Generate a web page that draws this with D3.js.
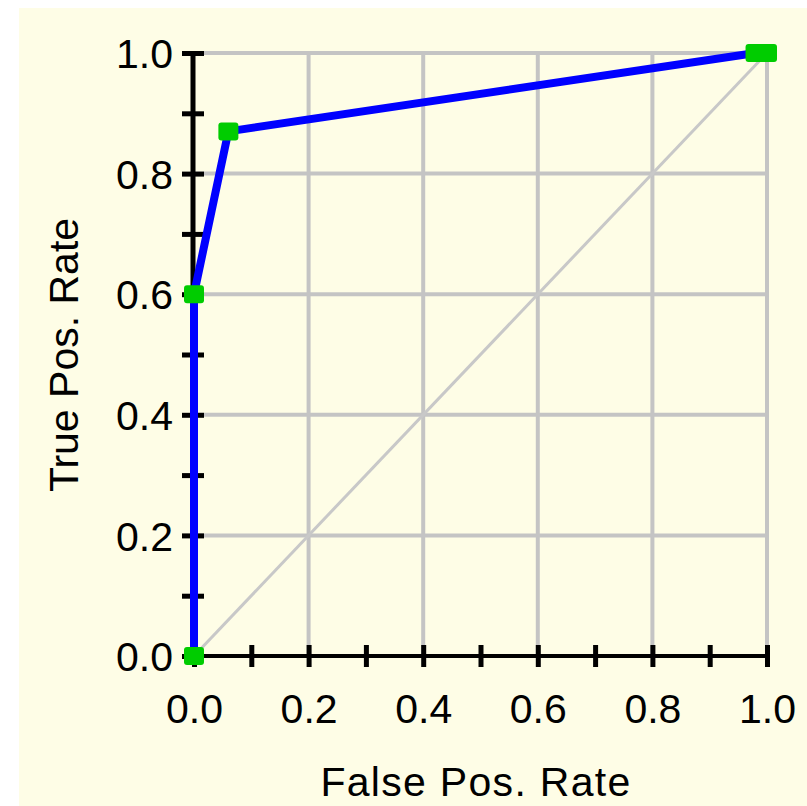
<!DOCTYPE html>
<html>
<head>
<meta charset="utf-8">
<script src="https://cdn.jsdelivr.net/npm/d3@7"></script>
<style>
  html, body { margin: 0; padding: 0; background: #ffffff; }
  svg { display: block; }
  text { font-family: Arial, "Liberation Sans", sans-serif; fill: #000; }
</style>
</head>
<body>
<svg id="chart" width="807" height="806"></svg>
<script>
// ---- data ----
const fpr = [0, 0, 0.06, 0.98, 1];
const tpr = [0, 0.6, 0.87, 1, 1];
const majorTicks = [0, 0.2, 0.4, 0.6, 0.8, 1.0];
const minorTicks = [0.1, 0.3, 0.5, 0.7, 0.9];
const xTitle = "False Pos. Rate";
const yTitle = "True Pos. Rate";

const svg = d3.select("#chart");
const W = 807, H = 806;

svg.append("rect").attr("x", 19).attr("y", 8).attr("width", W - 19).attr("height", H - 8)
  .attr("fill", "#fefde6");

const x = d3.scaleLinear().domain([0, 1]).range([194, 767]);
const y = d3.scaleLinear().domain([0, 1]).range([656, 53]);

const grid = svg.append("g");
grid.selectAll("line.v").data(majorTicks.filter(d => d > 0)).join("line")
  .attr("x1", d => x(d)).attr("x2", d => x(d))
  .attr("y1", y(0)).attr("y2", y(1))
  .attr("stroke", "#c4c4c4").attr("stroke-width", 4);
grid.selectAll("line.h").data(majorTicks.filter(d => d > 0)).join("line")
  .attr("x1", x(0)).attr("x2", x(1))
  .attr("y1", d => y(d)).attr("y2", d => y(d))
  .attr("stroke", "#c4c4c4").attr("stroke-width", 4);

// diagonal reference
svg.append("line")
  .attr("x1", x(0)).attr("y1", y(0)).attr("x2", x(1)).attr("y2", y(1))
  .attr("stroke", "#c8c8c8").attr("stroke-width", 3);

// axes
const allTicks = majorTicks.concat(minorTicks).sort((a, b) => a - b);
const fmt = d3.format(".1f");
const isMajor = d => majorTicks.some(m => Math.abs(m - d) < 1e-9);

const xAxis = d3.axisBottom(x).tickValues(allTicks).tickSizeInner(11).tickSizeOuter(0)
  .tickFormat(d => isMajor(d) ? fmt(d) : "");
const gx = svg.append("g").attr("transform", `translate(0,${y(0)})`).call(xAxis);
gx.select(".domain").attr("stroke", "#000").attr("stroke-width", 4)
  .attr("d", `M${x(0)},0H${x(1)}`);
gx.selectAll(".tick line").attr("stroke", "#000").attr("stroke-width", 5).attr("y1", -11).attr("y2", 11);
gx.selectAll(".tick text").attr("y", 67).attr("dy", 0).attr("font-size", 41)
  .attr("font-family", "Arial, 'Liberation Sans', sans-serif");

const yAxis = d3.axisLeft(y).tickValues(allTicks).tickSizeInner(11).tickSizeOuter(0)
  .tickFormat(d => isMajor(d) ? fmt(d) : "");
const gy = svg.append("g").attr("transform", `translate(${x(0) - 1},0)`).call(yAxis);
gy.select(".domain").attr("stroke", "#000").attr("stroke-width", 5)
  .attr("d", `M0,${y(0)}V${y(1)}`);
gy.selectAll(".tick line").attr("stroke", "#000").attr("stroke-width", 5).attr("x1", 11).attr("x2", -11);
gy.selectAll(".tick text").attr("x", -20).attr("dy", "0.36em").attr("font-size", 41)
  .attr("font-family", "Arial, 'Liberation Sans', sans-serif");

// ROC curve
const pts = fpr.map((f, i) => [f, tpr[i]]);
svg.append("path").datum(pts)
  .attr("d", d3.line().x(d => x(d[0])).y(d => y(d[1])))
  .attr("fill", "none").attr("stroke", "#0000ff").attr("stroke-width", 8)
  .attr("stroke-linejoin", "round");

svg.append("g").selectAll("rect").data(pts).join("rect")
  .attr("x", d => x(d[0]) - 10).attr("y", d => y(d[1]) - 9)
  .attr("width", 20).attr("height", 18).attr("rx", 3)
  .attr("fill", "#00cc00");

// titles
svg.append("text").attr("x", 476).attr("y", 796).attr("text-anchor", "middle")
  .attr("font-size", 41).attr("letter-spacing", 1.3).text(xTitle);
svg.append("text").attr("transform", "translate(78,355) rotate(-90)")
  .attr("text-anchor", "middle").attr("font-size", 41).text(yTitle);
</script>
</body>
</html>
